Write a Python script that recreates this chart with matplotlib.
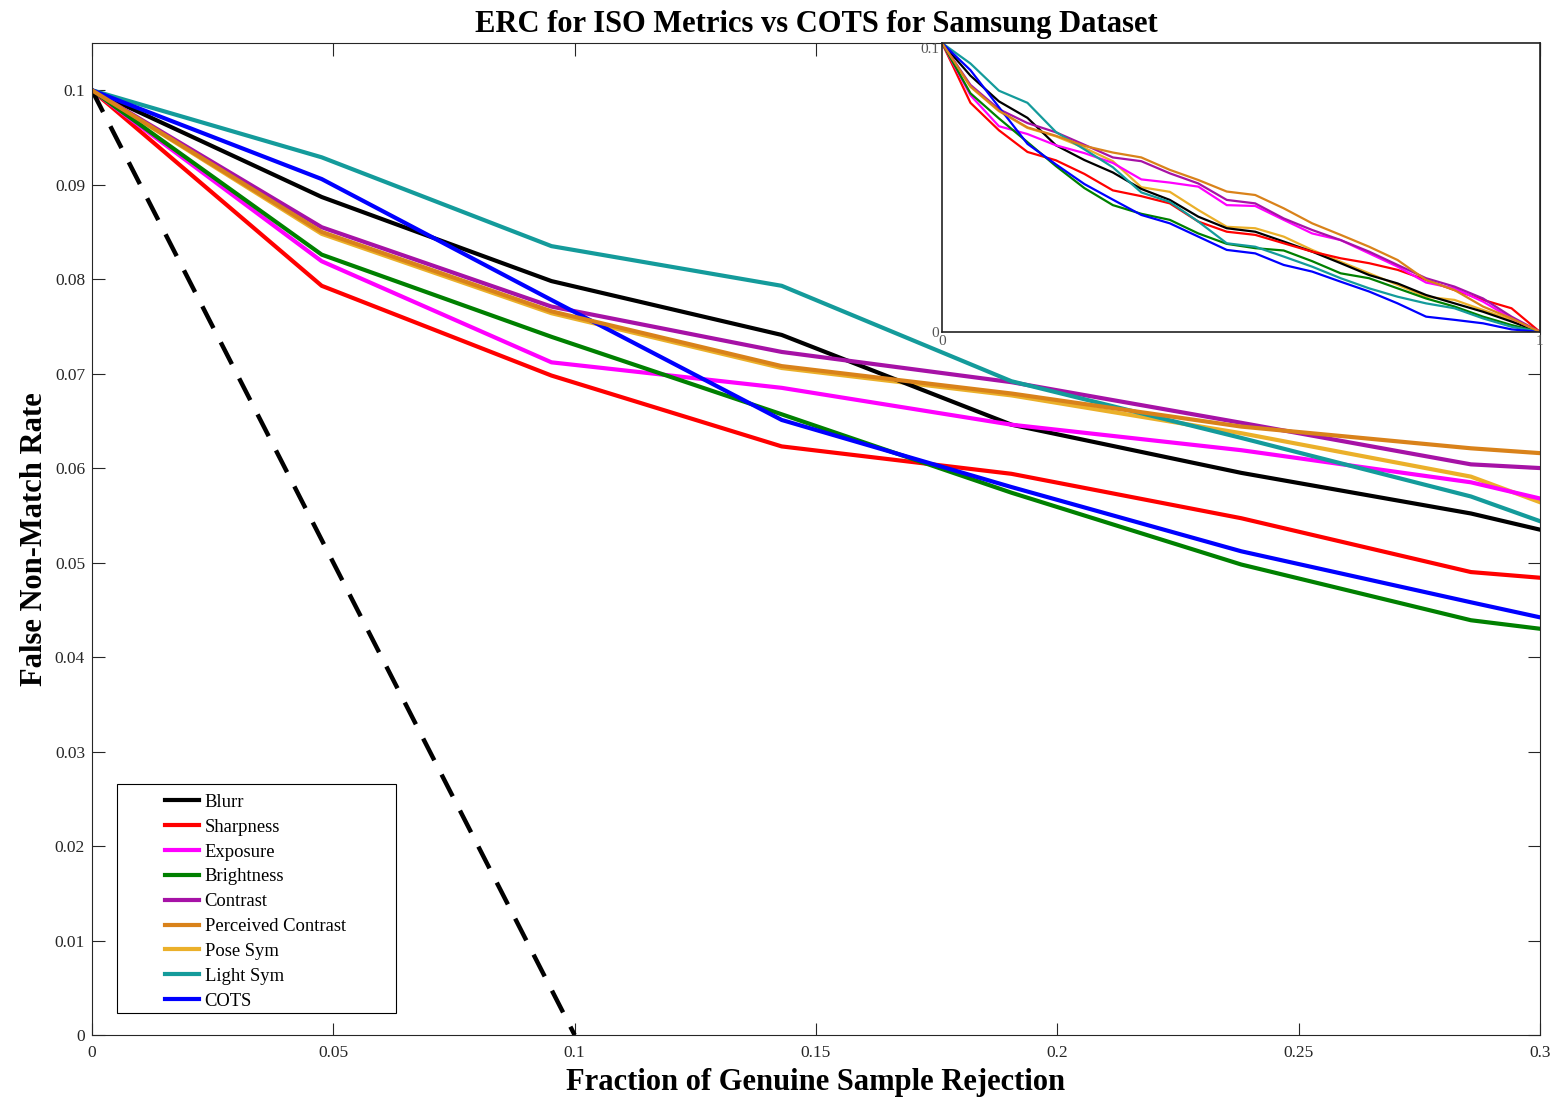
import matplotlib.pyplot as plt
from matplotlib.patches import Rectangle

plt.rcParams['font.family'] = ['Liberation Serif', 'DejaVu Serif']

# fraction of genuine samples rejected (21 quality bins)
frac = [0, 0.0476, 0.0952, 0.1429, 0.1905, 0.2381, 0.2857, 0.3333, 0.3810,
        0.4286, 0.4762, 0.5238, 0.5714, 0.6190, 0.6667, 0.7143, 0.7619,
        0.8095, 0.8571, 0.9048, 0.9524, 1.0]

# FNMR after rejecting the lowest-quality samples, per metric
blurr = [0.1, 0.0887, 0.0798, 0.0741, 0.0646, 0.0595, 0.0552, 0.0495, 0.0457,
         0.0399, 0.0359, 0.0347, 0.0313, 0.0278, 0.0238, 0.0197, 0.0168,
         0.0128, 0.0099, 0.0070, 0.0036, 0]
sharpness = [0.1, 0.0793, 0.0698, 0.0623, 0.0594, 0.0547, 0.0490, 0.0470,
             0.0445, 0.0382, 0.0347, 0.0336, 0.0307, 0.0278, 0.0255, 0.0238,
             0.0215, 0.0180, 0.0145, 0.0111, 0.0082, 0]
exposure = [0.1, 0.0819, 0.0712, 0.0685, 0.0646, 0.0619, 0.0585, 0.0528,
            0.0517, 0.0503, 0.0439, 0.0436, 0.0388, 0.0341, 0.0318, 0.0272,
            0.0226, 0.0171, 0.0151, 0.0105, 0.0047, 0]
brightness = [0.1, 0.0826, 0.0739, 0.0657, 0.0574, 0.0498, 0.0439, 0.0409,
              0.0388, 0.0341, 0.0305, 0.0290, 0.0282, 0.0245, 0.0203, 0.0186,
              0.0151, 0.0116, 0.0088, 0.0053, 0.0024, 0]
contrast = [0.1, 0.0855, 0.0771, 0.0723, 0.0691, 0.0648, 0.0604, 0.0591,
            0.0549, 0.0514, 0.0457, 0.0445, 0.0393, 0.0353, 0.0318, 0.0278,
            0.0232, 0.0186, 0.0157, 0.0116, 0.0053, 0]
perceived = [0.1, 0.0850, 0.0766, 0.0708, 0.0679, 0.0644, 0.0621, 0.0604,
             0.0561, 0.0526, 0.0486, 0.0474, 0.0428, 0.0376, 0.0336, 0.0295,
             0.0249, 0.0180, 0.0145, 0.0088, 0.0047, 0]
pose_sym = [0.1, 0.0848, 0.0764, 0.0706, 0.0677, 0.0637, 0.0591, 0.0501,
            0.0485, 0.0422, 0.0364, 0.0359, 0.0330, 0.0284, 0.0243, 0.0203,
            0.0163, 0.0122, 0.0111, 0.0076, 0.0042, 0]
light_sym = [0.1, 0.0929, 0.0835, 0.0793, 0.0692, 0.0632, 0.0570, 0.0483,
             0.0450, 0.0382, 0.0307, 0.0295, 0.0261, 0.0226, 0.0186, 0.0151,
             0.0122, 0.0099, 0.0082, 0.0047, 0.0018, 0]
cots = [0.1, 0.0906, 0.0778, 0.0651, 0.0580, 0.0512, 0.0458, 0.0405, 0.0376,
        0.0330, 0.0284, 0.0272, 0.0232, 0.0209, 0.0174, 0.0140, 0.0099,
        0.0053, 0.0042, 0.0030, 0.0009, 0]

# ideal ERC: every rejected sample is a false non-match
ideal_x = [0, 0.1]
ideal_y = [0.1, 0]

series = [blurr, sharpness, exposure, brightness, contrast, perceived,
          pose_sym, light_sym, cots]
labels = ['Blurr', 'Sharpness', 'Exposure', 'Brightness', 'Contrast',
          'Perceived Contrast', 'Pose Sym', 'Light Sym', 'COTS']
colors = ['#000000', '#ff0000', '#ff00ff', '#008000', '#a612a6',
          '#d9821a', '#ebb02a', '#149b9b', '#0000ff']
zorders = [2, 2, 2, 2, 2, 2.1, 1.9, 2, 2]

xticks = [0, 0.05, 0.1, 0.15, 0.2, 0.25, 0.3]
xtick_labels = ['0', '0.05', '0.1', '0.15', '0.2', '0.25', '0.3']
yticks = [0, 0.01, 0.02, 0.03, 0.04, 0.05, 0.06, 0.07, 0.08, 0.09, 0.1]
ytick_labels = ['0', '0.01', '0.02', '0.03', '0.04', '0.05', '0.06', '0.07',
                '0.08', '0.09', '0.1']

fig = plt.figure(figsize=(15.56, 11), dpi=100)
ax = fig.add_axes([0.0591, 0.0591, 0.9306, 0.9018])

for vals, lab, col, z in zip(series, labels, colors, zorders):
    ax.plot(frac, vals, color=col, lw=3, label=lab, zorder=z)
ax.plot(ideal_x, ideal_y, color='k', lw=3.2, linestyle=(0, (5.5, 3.6)),
        zorder=2)

ax.set_xlim(0, 0.3)
ax.set_ylim(0, 0.105)
ax.set_xticks(xticks)
ax.set_xticklabels(xtick_labels)
ax.set_yticks(yticks)
ax.set_yticklabels(ytick_labels)
ax.tick_params(direction='in', length=9, width=0.8, top=True, right=True,
               labelsize=12.5, colors='#262626', pad=5)
ax.tick_params(axis='x', pad=7)
for s in ax.spines.values():
    s.set_color('#262626')
    s.set_linewidth(0.8)

ax.set_title('ERC for ISO Metrics vs COTS for Samsung Dataset',
             fontsize=22, fontweight='bold', pad=8)
ax.set_xlabel('Fraction of Genuine Sample Rejection', fontsize=22,
              fontweight='bold', labelpad=5)
ax.set_ylabel('False Non-Match Rate', fontsize=22, fontweight='bold',
              labelpad=4)

# legend box drawn square like the matlab one
ax.add_patch(Rectangle((0.0173, 0.0222), 0.1927, 0.2308,
                       transform=ax.transAxes, facecolor='white',
                       edgecolor='k', lw=0.8, zorder=4.5))
ax.legend(loc='lower left', bbox_to_anchor=(0.0504, 0.0255), frameon=False,
          fontsize=13.4, handlelength=1.85, handletextpad=0.28,
          labelspacing=0.42, borderpad=0, borderaxespad=0)

# inset with the full rejection range
ax_in = fig.add_axes([0.6054, 0.6982, 0.3843, 0.2627])
for vals, col, z in zip(series, colors, zorders):
    ax_in.plot(frac, vals, color=col, lw=1.6, zorder=z)
ax_in.set_xlim(0, 1)
ax_in.set_ylim(0, 0.1)
ax_in.set_xticks([0, 1])
ax_in.set_xticklabels(['0', '1'])
ax_in.set_yticks([0, 0.1])
ax_in.set_yticklabels(['0', '0.1'])
ax_in.tick_params(direction='in', length=0, labelsize=11, colors='#555555',
                  pad=2)
# keep the top label clear of the title
ax_in.get_yticklabels()[1].set_verticalalignment('top')
for s in ax_in.spines.values():
    s.set_color('#222222')
    s.set_linewidth(1.2)

fig.savefig('out.png', dpi=100)
